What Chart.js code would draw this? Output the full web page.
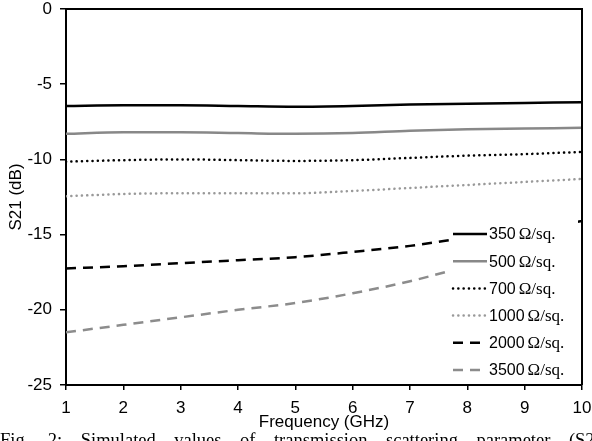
<!DOCTYPE html>
<html>
<head>
<meta charset="utf-8">
<script src="https://cdn.jsdelivr.net/npm/chart.js@4.4.0/dist/chart.umd.min.js"></script>
<style>
html, body { margin: 0; padding: 0; background: #fff; overflow: hidden; }
#wrap { position: relative; width: 592px; height: 441px; overflow: hidden; }
#caption {
    position: absolute; left: 0; top: 431px; width: 610px;
    font-family: "Liberation Serif", "Times New Roman", serif;
    font-size: 18.5px; line-height: 18.5px; color: #000;
    text-align: justify; text-align-last: justify;
}
</style>
</head>
<body>
<div id="wrap">
    <canvas id="myChart" width="592" height="441"></canvas>
    <div id="caption">Fig. 2: Simulated values of transmission scattering parameter (S21)</div>
</div>
<script>
// frequency points (GHz)
const freq = [1, 2, 3, 4, 5, 6, 7, 8, 9, 10];

// S21 (dB), one array per sheet resistance
const s350  = [-6.45, -6.4, -6.4, -6.45, -6.5, -6.45, -6.35, -6.3, -6.25, -6.2];
const s500  = [-8.3, -8.2, -8.2, -8.25, -8.3, -8.25, -8.1, -8.0, -7.95, -7.9];
const s700  = [-10.15, -10.05, -10.0, -10.05, -10.1, -10.05, -9.9, -9.75, -9.65, -9.5];
const s1000 = [-12.45, -12.3, -12.25, -12.25, -12.25, -12.1, -11.9, -11.7, -11.5, -11.3];
const s2000 = [-17.25, -17.1, -16.9, -16.7, -16.5, -16.15, -15.75, -15.2, -14.7, -14.1];
const s3500 = [-21.5, -21.0, -20.5, -20.0, -19.55, -18.9, -18.1, -17.1, -16.1, -15.1];

const seriesNames = ['350', '500', '700', '1000', '2000', '3500'];
const xTicks = [1, 2, 3, 4, 5, 6, 7, 8, 9, 10];
const yTicks = [-25, -20, -15, -10, -5, 0];

const sans = '"Liberation Sans", Arial, sans-serif';
const serif = '"Liberation Serif", "Times New Roman", serif';

function pts(values) {
    return freq.map((f, i) => ({ x: f, y: values[i] }));
}

function series(name, values, color, dash) {
    return {
        label: name,
        data: pts(values),
        borderColor: color,
        borderWidth: 2.5,
        borderDash: dash,
        borderCapStyle: dash.length && dash[0] < 1 ? 'round' : 'butt',
        cubicInterpolationMode: 'monotone',
        pointRadius: 0,
        fill: false
    };
}

const black = '#000000';
const gray = '#888888';

// box round the plot area (top + right sides)
const frame = {
    id: 'frame',
    afterDatasetsDraw(chart) {
        const a = chart.chartArea;
        const ctx = chart.ctx;
        ctx.save();
        ctx.strokeStyle = '#000';
        ctx.lineWidth = 2;
        ctx.beginPath();
        ctx.moveTo(a.left, a.top);
        ctx.lineTo(a.right, a.top);
        ctx.lineTo(a.right, a.bottom);
        ctx.stroke();
        ctx.restore();
    }
};

// legend inside the plot, digits in sans, "Ω/sq." in serif
const innerLegend = {
    id: 'innerLegend',
    afterDatasetsDraw(chart) {
        const a = chart.chartArea;
        const ctx = chart.ctx;
        ctx.save();
        ctx.fillStyle = '#fff';
        ctx.fillRect(a.right - 131, a.bottom - 166, 127, 164);
        chart.data.datasets.forEach((ds, i) => {
            const y = a.bottom - 151 + i * 27.2;
            ctx.strokeStyle = ds.borderColor;
            ctx.lineWidth = ds.borderWidth;
            ctx.lineCap = ds.borderCapStyle;
            ctx.setLineDash(ds.borderDash);
            ctx.beginPath();
            ctx.moveTo(a.right - 129, y);
            ctx.lineTo(a.right - 95, y);
            ctx.stroke();
            ctx.setLineDash([]);
            ctx.fillStyle = '#000';
            ctx.textBaseline = 'middle';
            ctx.font = '16px ' + sans;
            let x = a.right - 93;
            ctx.fillText(ds.label, x, y + 1);
            x += ctx.measureText(ds.label).width + 3;
            ctx.font = '17px ' + serif;
            ctx.fillText('\u03A9/sq.', x, y + 1);
        });
        ctx.restore();
    }
};

const ctx = document.getElementById('myChart').getContext('2d');
new Chart(ctx, {
    type: 'line',
    data: {
        datasets: [
            series(seriesNames[0], s350, black, []),
            series(seriesNames[1], s500, gray, []),
            series(seriesNames[2], s700, black, [0.1, 5.2]),
            series(seriesNames[3], s1000, '#999999', [0.1, 5.2]),
            series(seriesNames[4], s2000, black, [10, 7]),
            series(seriesNames[5], s3500, '#8c8c8c', [10, 7])
        ]
    },
    options: {
        responsive: false,
        animation: false,
        layout: { padding: { top: 9, right: 10, left: 0, bottom: 0 } },
        plugins: {
            legend: { display: false },
            tooltip: { enabled: false }
        },
        scales: {
            x: {
                type: 'linear',
                min: 1,
                max: 10,
                afterBuildTicks: s => { s.ticks = xTicks.map(v => ({ value: v })); },
                afterFit: s => { s.height = 56; s.paddingLeft = 0; s.paddingRight = 0; },
                ticks: { color: '#000', font: { family: sans, size: 17 }, padding: 8, maxRotation: 0 },
                grid: { drawOnChartArea: false, drawTicks: true, tickLength: 5, color: '#000', lineWidth: 1.5 },
                border: { display: true, color: '#000', width: 2 },
                title: { display: true, text: 'Frequency (GHz)', color: '#000', font: { family: sans, size: 17 }, padding: { top: 0, bottom: 8 } }
            },
            y: {
                min: -25,
                max: 0,
                afterBuildTicks: s => { s.ticks = yTicks.map(v => ({ value: v })); },
                afterFit: s => { s.width = 66; s.paddingTop = 0; s.paddingBottom = 0; },
                ticks: { color: '#000', font: { family: sans, size: 17 }, padding: 8 },
                grid: { drawOnChartArea: false, drawTicks: true, tickLength: 6, color: '#000', lineWidth: 1.5 },
                border: { display: true, color: '#000', width: 2 },
                title: { display: true, text: 'S21 (dB)', color: '#000', font: { family: sans, size: 17 }, padding: { top: 6, bottom: 0 } }
            }
        }
    },
    plugins: [frame, innerLegend]
});
</script>
</body>
</html>
